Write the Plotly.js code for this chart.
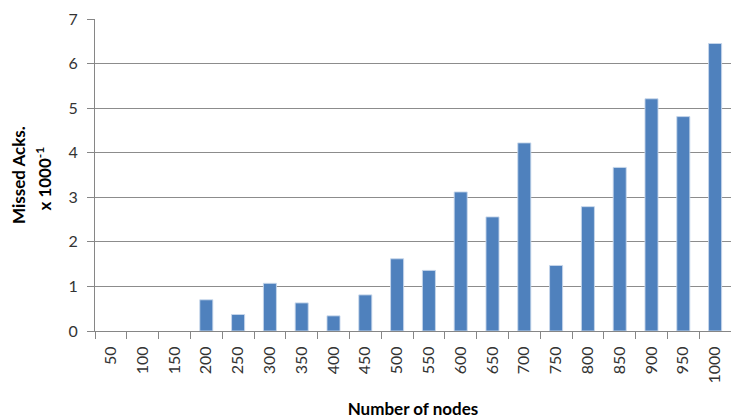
<!DOCTYPE html>
<html>
<head>
<meta charset="utf-8">
<script src="https://cdn.plot.ly/plotly-3.0.1.min.js"></script>
<style>html,body{margin:0;padding:0;background:#fff;}#chart{width:731px;height:419px;}</style>
</head>
<body>
<div id="chart"></div>
<script>
const categories = ['50','100','150','200','250','300','350','400','450','500','550','600','650','700','750','800','850','900','950','1000'];
const missedAcks = [0,0,0,0.70,0.37,1.07,0.63,0.34,0.81,1.62,1.36,3.12,2.56,4.22,1.47,2.79,3.67,5.21,4.81,6.45];
const yTicks = [0,1,2,3,4,5,6,7];

const trace = {
  type: 'bar',
  x: categories,
  y: missedAcks,
  marker: {
    color: '#4F81BD',
    line: {color: 'rgba(200,215,235,0.9)', width: missedAcks.map(v => v > 0 ? 1 : 0)}
  },
  hoverinfo: 'x+y'
};

const layout = {
  width: 731, height: 419,
  margin: {l: 95, r: 0, t: 19, b: 88},
  paper_bgcolor: '#fff', plot_bgcolor: '#fff',
  bargap: 0.59,
  showlegend: false,
  font: {family: 'Lato, "Open Sans", sans-serif', color: '#333'},
  xaxis: {
    type: 'category',
    tickangle: -90,
    tickson: 'boundaries',
    ticks: 'outside', ticklen: 7, tickcolor: '#868686', tickwidth: 1,
    showline: true, linecolor: '#868686', linewidth: 1,
    showgrid: false,
    tickfont: {size: 16, color: '#333'},
    ticklabelstandoff: 8,
    title: {text: '<b>Number of nodes</b>', font: {size: 17, color: '#000'}, standoff: 20},
    automargin: false
  },
  yaxis: {
    range: [0, 7],
    tickvals: yTicks,
    ticks: 'outside', ticklen: 7, tickcolor: '#868686', tickwidth: 1,
    showline: true, linecolor: '#868686', linewidth: 1,
    showgrid: true, gridcolor: '#8c8c8c', gridwidth: 1,
    zeroline: false,
    tickfont: {size: 16, color: '#333'},
    ticklabelstandoff: 6,
    automargin: false
  },
  annotations: [
    {text: '<b>Missed Acks.</b>', xref: 'paper', yref: 'paper', x: -0.121, y: 0.50, xanchor: 'center', yanchor: 'middle', textangle: -90, showarrow: false, font: {size: 17, color: '#000'}},
    {text: '<b>x 1000<sup>-1</sup></b>', xref: 'paper', yref: 'paper', x: -0.081, y: 0.49, xanchor: 'center', yanchor: 'middle', textangle: -90, showarrow: false, font: {size: 17, color: '#000'}}
  ]
};

Plotly.newPlot('chart', [trace], layout, {displayModeBar: false, staticPlot: true});
</script>
</body>
</html>
